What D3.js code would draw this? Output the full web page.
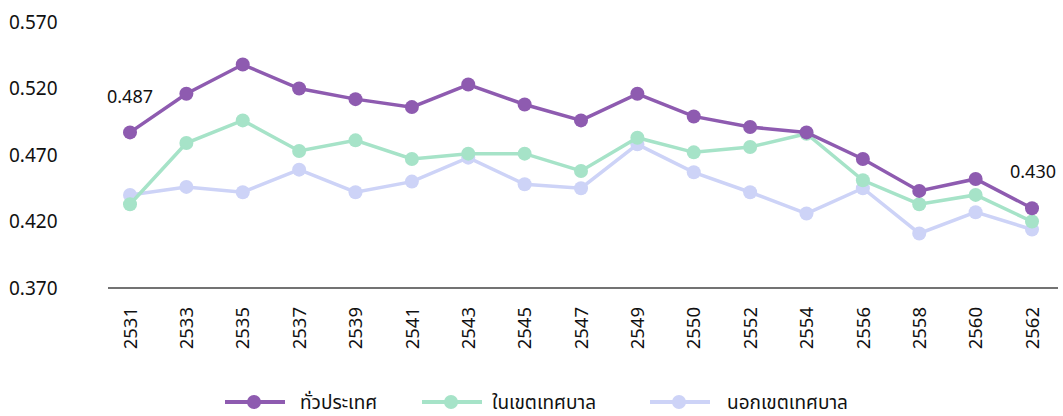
<!DOCTYPE html>
<html><head><meta charset="utf-8">
<script src="https://cdn.jsdelivr.net/npm/d3@7"></script>
<style>body{margin:0;background:#fff}svg{display:block}text{font-family:"Noto Sans","Noto Sans Thai",Inter,sans-serif;fill:#111}</style>
</head><body><svg id="c" width="1063" height="416"></svg>
<script>
const years = ["2531","2533","2535","2537","2539","2541","2543","2545","2547","2549","2550","2552","2554","2556","2558","2560","2562"];
const seriesNames = ["ทั่วประเทศ","ในเขตเทศบาล","นอกเขตเทศบาล"];
const whole = [0.487,0.516,0.538,0.520,0.512,0.506,0.523,0.508,0.496,0.516,0.499,0.491,0.487,0.467,0.443,0.452,0.430];
const urban = [0.433,0.479,0.496,0.473,0.481,0.467,0.471,0.471,0.458,0.483,0.472,0.476,0.486,0.451,0.433,0.440,0.420];
const rural = [0.440,0.446,0.442,0.459,0.442,0.450,0.468,0.448,0.445,0.478,0.457,0.442,0.426,0.445,0.411,0.427,0.414];
const yTicks = [0.370,0.420,0.470,0.520,0.570];
const colors = ["#8e5bb0","#a6e3c8","#cdd3f7"];
const series = [whole, urban, rural];

const svg = d3.select("#c");
const x = d3.scalePoint().domain(years).range([130,1032]);
const y = d3.scaleLinear().domain([0.370,0.570]).range([288,22]);

// y tick labels
svg.append("g").selectAll("text").data(yTicks).join("text")
  .attr("x",9).attr("y",d=>y(d)).attr("dy","0.35em")
  .style("font-size","19px").text(d=>d3.format(".3f")(d));

// x axis line
svg.append("line").attr("x1",108).attr("x2",1058).attr("y1",288).attr("y2",288)
  .attr("stroke","#444").attr("stroke-width",1.5);

// x tick labels rotated
svg.append("g").selectAll("text").data(years).join("text")
  .attr("transform",d=>`translate(${x(d)},307) rotate(-90)`)
  .attr("text-anchor","end").attr("dy","0.36em")
  .style("font-size","18.5px").text(d=>d);

// lines
const line = d3.line().x((d,i)=>x(years[i])).y(d=>y(d));
[2,1,0].forEach(k=>{
  const g = svg.append("g");
  g.append("path").datum(series[k]).attr("d",line).attr("fill","none")
    .attr("stroke",colors[k]).attr("stroke-width",3.5);
  g.selectAll("circle").data(series[k]).join("circle")
    .attr("cx",(d,i)=>x(years[i])).attr("cy",d=>y(d)).attr("r",7).attr("fill",colors[k]);
});

// data labels
svg.append("text").attr("x",x(years[0])-23).attr("y",y(whole[0])-36).attr("dy","0.35em")
  .style("font-size","18px").text(d3.format(".3f")(whole[0]));
svg.append("text").attr("x",x(years[16])-22).attr("y",y(whole[16])-37).attr("dy","0.35em")
  .style("font-size","18px").text(d3.format(".3f")(whole[16]));

// legend
const leg = [{lx:225,tx:300},{lx:422,tx:492},{lx:650,tx:727}];
seriesNames.forEach((n,k)=>{
  const g = svg.append("g");
  g.append("line").attr("x1",leg[k].lx).attr("x2",leg[k].lx+60).attr("y1",402).attr("y2",402)
    .attr("stroke",colors[k]).attr("stroke-width",4);
  g.append("circle").attr("cx",leg[k].lx+29).attr("cy",402).attr("r",7).attr("fill",colors[k]);
  g.append("text").attr("x",leg[k].tx).attr("y",402).attr("dy","0.35em").style("font-size","19px").text(n);
});
</script></body></html>
